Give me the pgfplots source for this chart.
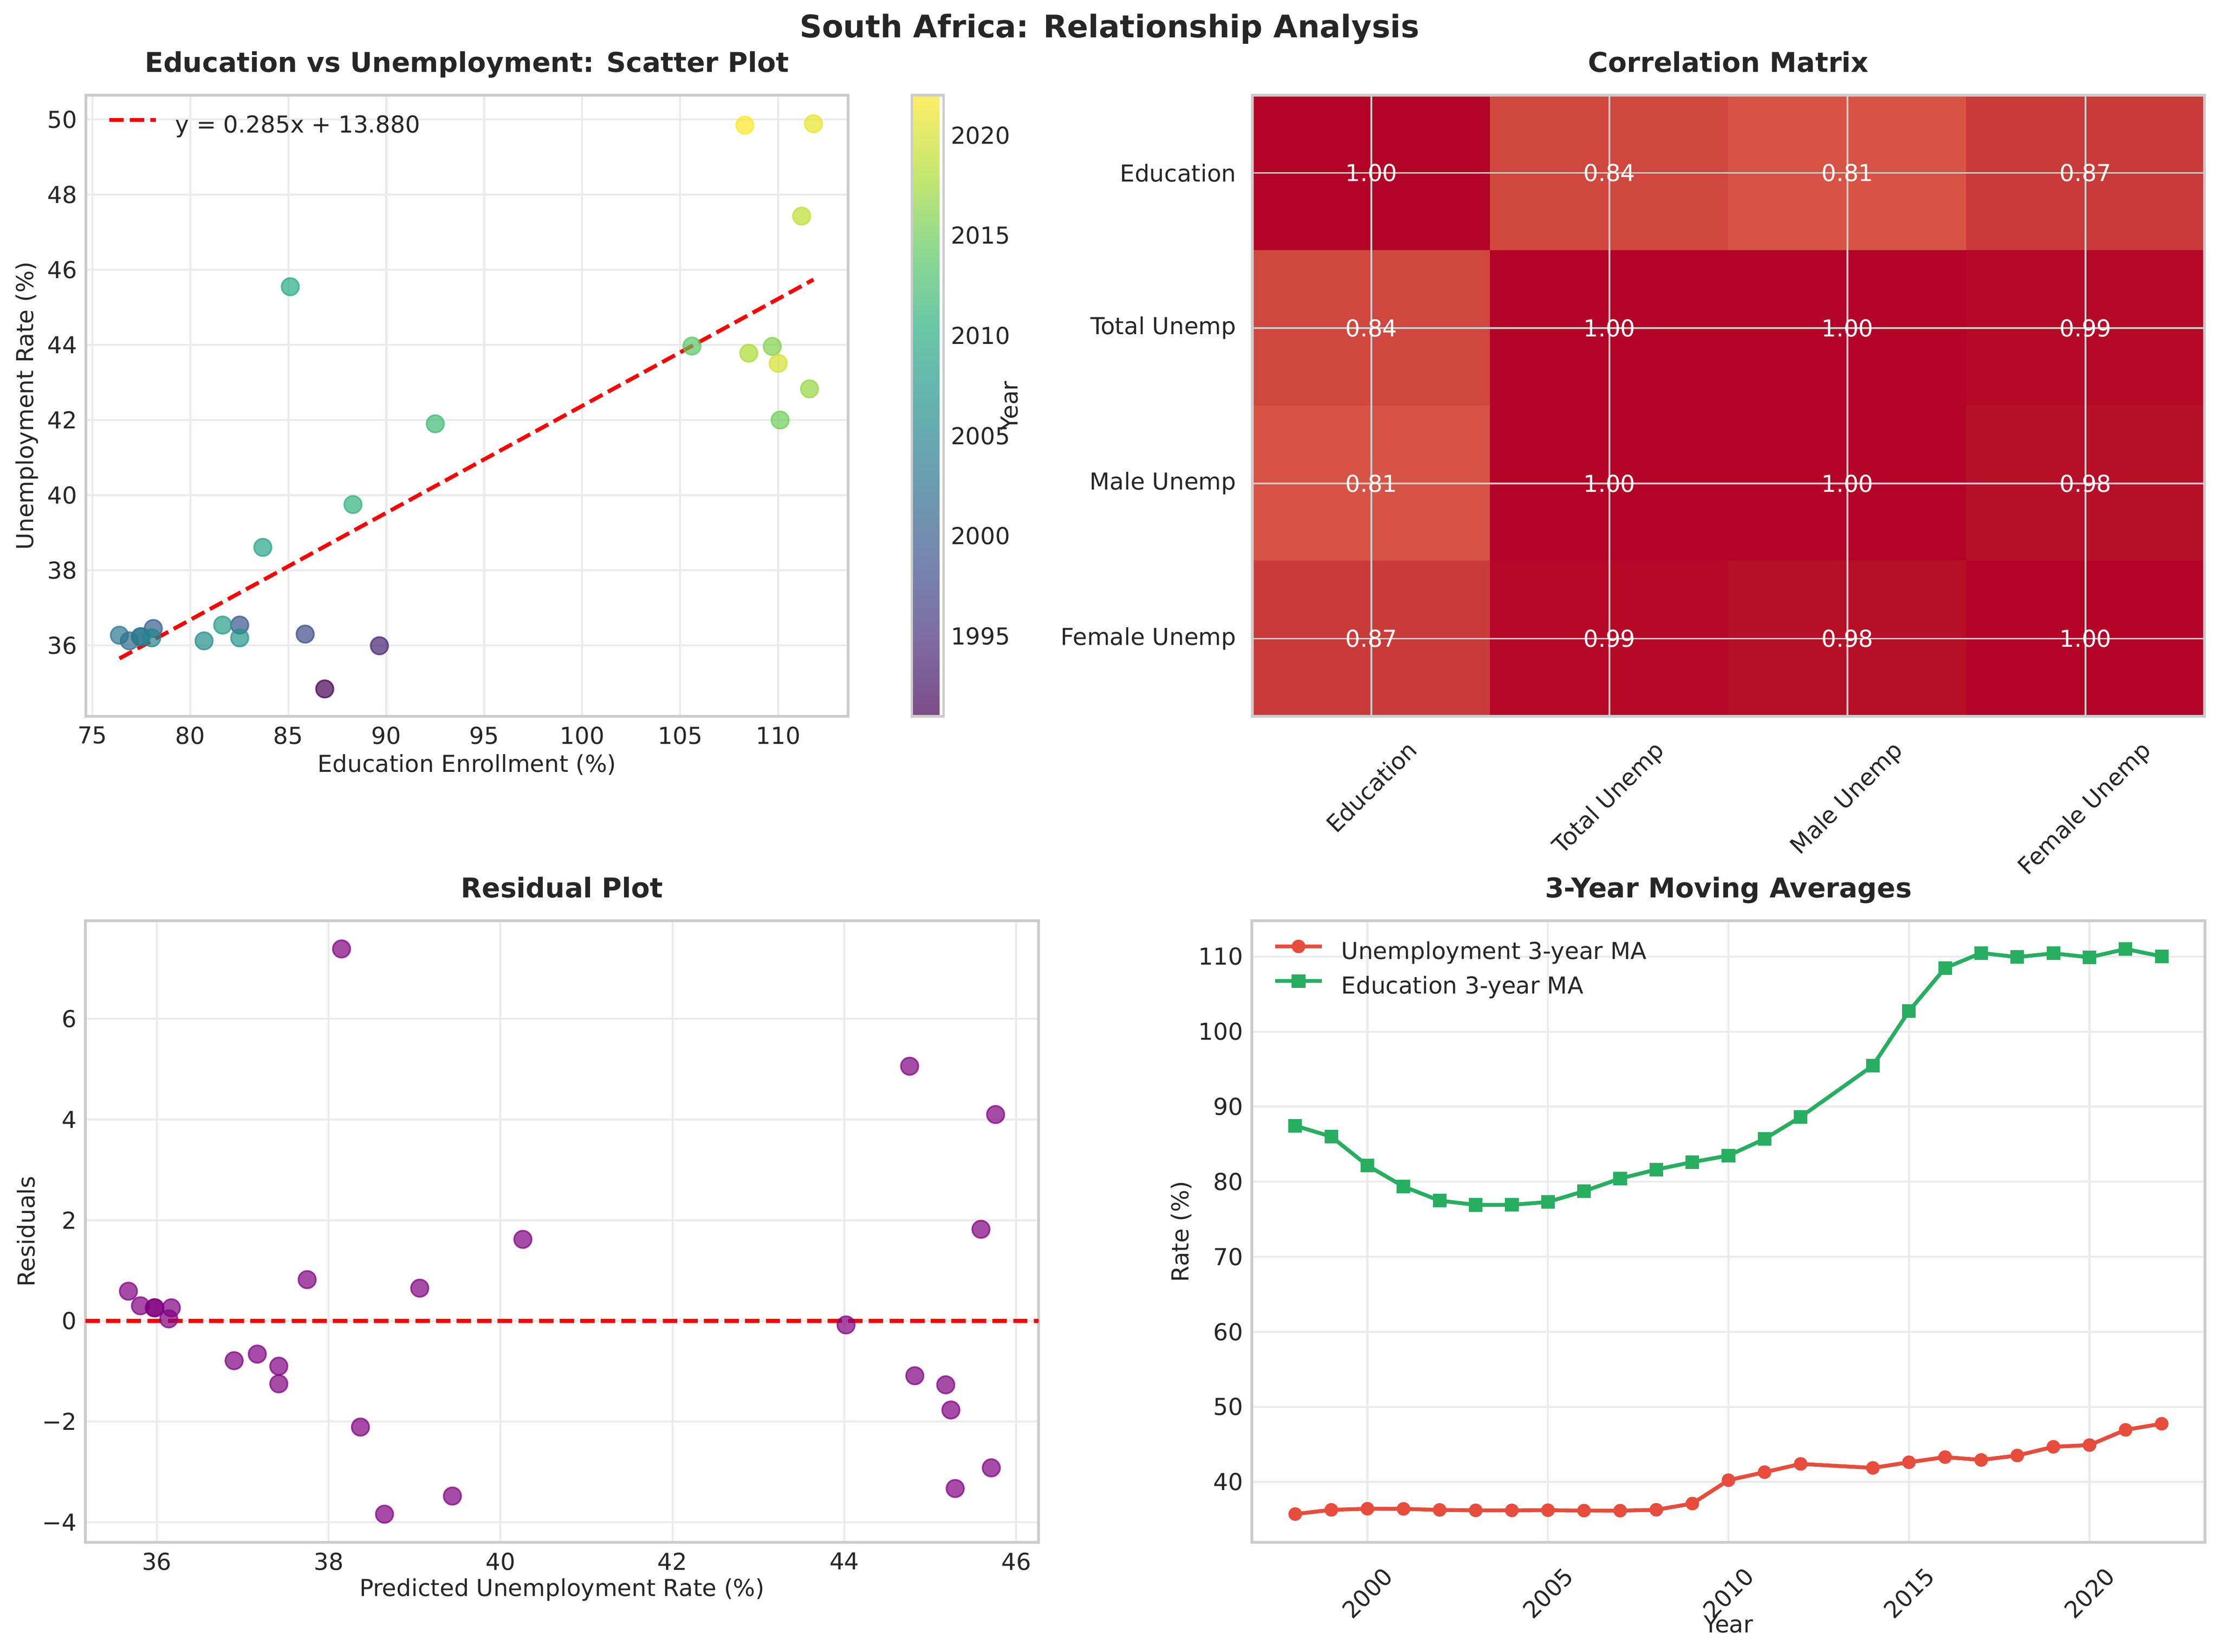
\documentclass[border=0pt]{standalone}
\usepackage{fontspec}
\setmainfont{DejaVu Sans}
\usepackage{graphicx}
\usepackage{pgfplots}
\usepackage{pgfplotstable}
\pgfplotsset{compat=1.18}

\definecolor{txt}{HTML}{262626}
\definecolor{frame}{HTML}{CCCCCC}
\definecolor{gridc}{HTML}{EBEBEB}
\definecolor{unempc}{HTML}{E74C3C}
\definecolor{educc}{HTML}{27AE60}
\definecolor{purp}{HTML}{800080}
\definecolor{rr}{HTML}{FF0000}

\newcommand\twelve{\fontsize{12pt}{14pt}\selectfont}
\newcommand\fourteen{\fontsize{14pt}{17pt}\selectfont}
\newcommand\sixteen{\fontsize{16pt}{19pt}\selectfont}

\pgfkeys{/pgf/number format/assume math mode=true, /pgf/number format/1000 sep={}}

\pgfplotsset{
  colormap={vir}{rgb255(0cm)=(68,1,84) rgb255(1cm)=(71,45,123) rgb255(2cm)=(59,82,139) rgb255(3cm)=(44,114,142) rgb255(4cm)=(33,145,140) rgb255(5cm)=(40,174,128) rgb255(6cm)=(94,201,98) rgb255(7cm)=(173,220,48) rgb255(8cm)=(253,231,37)},
  colormap={vir7}{rgb255(0cm)=(124,77,135) rgb255(1cm)=(126,108,163) rgb255(2cm)=(118,134,174) rgb255(3cm)=(107,156,176) rgb255(4cm)=(100,178,175) rgb255(5cm)=(105,198,166) rgb255(6cm)=(142,217,145) rgb255(7cm)=(198,231,110) rgb255(8cm)=(254,238,102)},
  colormap={cw}{rgb255(81pt)=(214,83,69) rgb255(84pt)=(207,71,62) rgb255(87pt)=(201,59,56) rgb255(98pt)=(183,15,40) rgb255(99pt)=(181,9,39) rgb255(100pt)=(179,3,38)},
  base/.style={
    scale only axis, anchor=north west, enlargelimits=false,
    axis line style={draw=frame, line width=1.25pt},
    major tick length=0pt,
    grid=major, major grid style={draw=gridc, line width=1pt},
    tick label style={font=\twelve, text=txt},
    xticklabel style={anchor=north, inner sep=0pt, yshift=-5.2pt},
    yticklabel style={anchor=east, inner sep=0pt, xshift=-4.3pt},
    label style={font=\twelve, text=txt},
    title style={font=\fourteen\bfseries, text=txt, at={(0.5,1)}, anchor=base, yshift=6pt, inner sep=0pt},
    legend cell align=left,
    legend style={at={(axis description cs:0,1)}, anchor=north west, xshift=10.8pt, yshift=-10pt,
      draw=none, fill=none, inner sep=0pt, column sep=9pt, row sep=5.3pt,
      nodes={inner sep=0pt, text height=9pt, text depth=3pt, font=\twelve, text=txt}},
    legend image code/.code={\draw[mark repeat=2, mark phase=2, #1] plot coordinates {(0pt,3.5pt) (12pt,3.5pt) (24pt,3.5pt)};},
  },
}

\pgfplotstableread{
year edu unemp
1991 86.86 34.84
1994 89.65 35.99
1998 85.86 36.30
1999 82.52 36.54
2000 78.11 36.45
2001 77.45 36.23
2002 76.89 36.12
2003 76.38 36.27
2004 77.50 36.23
2005 78.03 36.20
2006 80.70 36.12
2007 82.52 36.20
2008 81.65 36.54
2009 83.70 38.61
2010 85.10 45.55
2011 88.30 39.75
2012 92.50 41.90
2014 105.60 43.97
2015 110.10 42.00
2016 109.70 43.96
2017 111.60 42.83
2018 108.50 43.78
2019 111.20 47.43
2020 110.00 43.51
2021 111.80 49.89
2022 108.30 49.85
}\scatterdata

\pgfplotstableread{
pred res
35.67 0.59
35.81 0.30
35.98 0.26
35.97 0.26
36.17 0.26
36.14 0.04
36.90 -0.79
37.17 -0.66
37.42 -0.90
37.42 -1.25
37.75 0.82
38.15 7.39
38.37 -2.11
38.65 -3.84
39.06 0.65
39.44 -3.48
40.26 1.62
44.02 -0.08
44.76 5.06
44.82 -1.09
45.18 -1.27
45.24 -1.77
45.29 -3.33
45.59 1.82
45.71 -2.92
45.76 4.10
}\residdata

\pgfplotstableread{
year u e
1998 35.72 87.46
1999 36.28 86.01
2000 36.43 82.16
2001 36.41 79.36
2002 36.27 77.48
2003 36.21 76.91
2004 36.21 76.92
2005 36.23 77.30
2006 36.18 78.74
2007 36.17 80.42
2008 36.29 81.62
2009 37.12 82.62
2010 40.23 83.48
2011 41.30 85.70
2012 42.40 88.63
2014 41.87 95.47
2015 42.62 102.73
2016 43.31 108.47
2017 42.93 110.47
2018 43.52 109.93
2019 44.68 110.43
2020 44.91 109.90
2021 46.94 111.00
2022 47.75 110.03
}\madata

\pgfplotstableread{
x y c
0 0 1.00
1 0 0.84
2 0 0.81
3 0 0.87
0 1 0.84
1 1 1.00
2 1 1.00
3 1 0.99
0 2 0.81
1 2 1.00
2 2 1.00
3 2 0.98
0 3 0.87
1 3 0.99
2 3 0.98
3 3 1.00
}\corrdata

\begin{document}
\begin{tikzpicture}
\path[use as bounding box] (0,0) rectangle (1140.96pt,-849.36pt);
\node[anchor=base, font=\sixteen\bfseries, text=txt, inner sep=0pt] at (570.5pt,-19.2pt) {South Africa: Relationship Analysis};

% ---------- Scatter ----------
\begin{axis}[base, at={(44.16pt,-48.96pt)}, width=391.92pt, height=319.44pt,
  xmin=74.67, xmax=113.57, ymin=34.11, ymax=50.65,
  xtick={75,80,...,110}, ytick={36,38,...,50},
  title={Education vs Unemployment: Scatter Plot},
  xlabel={Education Enrollment (\%)}, ylabel={Unemployment Rate (\%)},
  xlabel style={at={(axis description cs:0.5,-0.078)}, anchor=center},
  ylabel style={at={(axis description cs:-0.0772,0.5)}, anchor=center},
  colormap name=vir, point meta min=1991, point meta max=2022,
  colorbar,
  colorbar style={
    at={(parent axis.north east)}, anchor=north west, xshift=24.2pt,
    scale only axis, width=16.3pt, height=319.44pt,
    colormap name=vir7,
    axis line style={draw=frame, line width=1.25pt},
    major tick length=0pt,
    ytick={1995,2000,2005,2010,2015,2020},
    yticklabel pos=right,
    yticklabel style={font=\twelve, text=txt, anchor=west, inner sep=0pt, xshift=3.6pt},
  },
]
\addplot[scatter, only marks, mark=*, mark size=4.5pt, line width=0.8pt, point meta=explicit, forget plot,
  scatter/use mapped color={draw=mapped color, fill=mapped color, fill opacity=0.7, draw opacity=0.7}]
  table[x=edu, y=unemp, meta=year] {\scatterdata};
\addplot[rr, line width=2pt, dash pattern=on 7.4pt off 3.2pt] coordinates {(76.38,35.65) (111.80,45.74)};
\addlegendentry{y = 0.285x + 13.880}
\end{axis}
\node[rotate=90, anchor=center, font=\twelve, text=txt, inner sep=0pt] at (519.1pt,-208.7pt) {Year};

% ---------- Correlation matrix ----------
\begin{axis}[base, at={(643.92pt,-48.96pt)}, width=489.6pt, height=319.44pt,
  xmin=-0.5, xmax=3.5, ymin=-0.5, ymax=3.5, y dir=reverse,
  axis on top,
  major grid style={draw=frame, line width=0.8pt},
  xtick={0,1,2,3}, ytick={0,1,2,3},
  xticklabels={\rotatebox{45}{Education},\rotatebox{45}{Total Unemp},\rotatebox{45}{Male Unemp},\rotatebox{45}{Female Unemp}},
  yticklabels={Education,Total Unemp,Male Unemp,Female Unemp},
  xticklabel style={anchor=north, yshift=-6.5pt},
  yticklabel style={xshift=-3.8pt},
  title={Correlation Matrix},
  colormap name=cw, point meta min=0.81, point meta max=1.0,
]
\addplot[matrix plot*, mesh/cols=4, point meta=explicit, shader=flat corner,
  nodes near coords={\pgfmathprintnumber[fixed,zerofill,precision=2]{\pgfplotspointmeta}},
  every node near coord/.append style={anchor=center, text=white, font=\twelve}]
  table[x=x, y=y, meta=c] {\corrdata};
\end{axis}

% ---------- Residual plot ----------
\begin{axis}[base, at={(43.92pt,-473.52pt)}, width=490.08pt, height=319.68pt,
  xmin=35.17, xmax=46.26, ymin=-4.40, ymax=7.95,
  xtick={36,38,...,46}, ytick={-4,-2,0,2,4,6},
  yticklabels={−4,−2,0,2,4,6},
  title={Residual Plot},
  xlabel={Predicted Unemployment Rate (\%)}, ylabel={Residuals},
  xlabel style={at={(axis description cs:0.5,-0.0766)}, anchor=center},
  ylabel style={at={(axis description cs:-0.0622,0.5)}, anchor=center},
]
\addplot[only marks, mark=*, mark size=4.5pt, line width=0.8pt,
  mark options={draw=purp, fill=purp, fill opacity=0.7, draw opacity=0.7}]
  table[x=pred, y=res] {\residdata};
\addplot[rr, line width=2pt, dash pattern=on 7.4pt off 3.2pt] coordinates {(35.17,0) (46.26,0)};
\end{axis}

% ---------- Moving averages ----------
\begin{axis}[base, at={(643.68pt,-473.52pt)}, width=490.08pt, height=319.68pt,
  xmin=1996.8, xmax=2023.2, ymin=31.95, ymax=114.77,
  xtick={2000,2005,2010,2015,2020},
  xticklabels={\rotatebox{45}{2000},\rotatebox{45}{2005},\rotatebox{45}{2010},\rotatebox{45}{2015},\rotatebox{45}{2020}},
  xticklabel style={anchor=north, yshift=-6.7pt},
  ytick={40,50,...,110},
  title={3-Year Moving Averages},
  xlabel={Year}, ylabel={Rate (\%)},
  xlabel style={at={(axis description cs:0.5,-0.132)}, anchor=center},
  ylabel style={at={(axis description cs:-0.074,0.5)}, anchor=center},
]
\addplot[unempc, line width=2pt, mark=*, mark size=3pt, mark options={solid, line width=1pt, fill=unempc, draw=unempc}]
  table[x=year, y=u] {\madata};
\addlegendentry{Unemployment 3-year MA}
\addplot[educc, line width=2pt, mark=square*, mark size=3pt, mark options={solid, line width=1pt, fill=educc, draw=educc}]
  table[x=year, y=e] {\madata};
\addlegendentry{Education 3-year MA}
\end{axis}
\end{tikzpicture}
\end{document}
